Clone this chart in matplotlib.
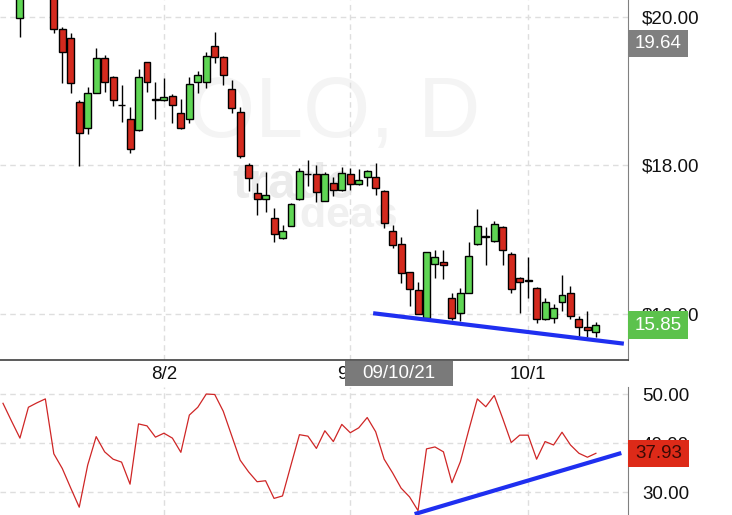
import matplotlib
matplotlib.use("Agg")
import matplotlib.pyplot as plt
import matplotlib.transforms as mtransforms
from matplotlib.patches import Rectangle
import numpy as np

plt.rcParams['font.family'] = ['Liberation Sans', 'DejaVu Sans']

# daily OHLC, 7/6/21 .. 10/13/21 (index = trading day)
opens = [20.60, 20.75, 19.99, 20.35, 20.60, 20.50, 20.50, 19.84, 19.72, 18.86,
         18.50, 18.98, 19.45, 19.19, 18.82, 18.63, 18.48, 19.39, 18.88, 18.88,
         18.94, 18.71, 18.63, 19.12, 19.12, 19.61, 19.46, 19.03, 18.72, 18.01,
         17.63, 17.55, 17.29, 17.02, 17.19, 17.55, 17.89, 17.89, 17.52, 17.76,
         17.67, 17.89, 17.75, 17.85, 17.85, 17.66, 17.12, 16.94, 16.57, 16.32,
         15.95, 16.67, 16.70, 16.22, 16.01, 16.28, 16.94, 17.04, 16.98, 17.17,
         16.81, 16.48, 16.46, 16.35, 15.93, 15.95, 16.16, 16.28, 15.93, 15.82,
         15.76]
highs = [20.90, 20.85, 20.45, 20.70, 20.75, 20.80, 20.55, 19.87, 19.78, 18.88,
         19.06, 19.58, 19.49, 19.20, 19.08, 18.79, 19.30, 19.40, 19.12, 19.18,
         18.96, 18.90, 19.19, 19.27, 19.53, 19.80, 19.47, 19.15, 18.79, 18.03,
         17.76, 17.91, 17.43, 17.20, 17.49, 17.96, 18.07, 18.01, 17.91, 17.85,
         17.98, 17.97, 17.95, 17.94, 18.03, 17.67, 17.20, 17.04, 16.57, 16.43,
         16.84, 16.86, 16.86, 16.28, 16.35, 16.97, 17.41, 17.17, 17.25, 17.18,
         16.83, 16.50, 16.77, 16.36, 16.22, 16.13, 16.53, 16.38, 15.97, 16.04,
         15.89]
lows = [20.50, 20.40, 19.73, 20.30, 20.35, 20.30, 19.78, 19.11, 18.98, 17.99,
        18.42, 18.97, 18.99, 18.80, 18.59, 18.17, 18.47, 18.99, 18.63, 18.87,
        18.57, 18.49, 18.57, 18.98, 19.04, 19.38, 19.08, 18.71, 18.10, 17.66,
        17.33, 17.37, 16.97, 17.01, 17.18, 17.54, 17.72, 17.51, 17.52, 17.59,
        17.66, 17.67, 17.74, 17.72, 17.60, 17.16, 16.89, 16.42, 16.11, 16.00,
        15.94, 16.48, 16.47, 15.92, 15.91, 16.28, 16.93, 16.66, 16.97, 16.66,
        16.28, 16.01, 16.22, 15.88, 15.92, 15.88, 16.04, 15.93, 15.70, 15.69,
        15.69]
closes = [20.80, 20.50, 20.35, 20.60, 20.55, 20.70, 19.84, 19.53, 19.11, 18.44,
          18.98, 19.45, 19.12, 18.88, 18.81, 18.22, 19.19, 19.12, 18.89, 18.92,
          18.81, 18.50, 19.10, 19.22, 19.47, 19.46, 19.22, 18.77, 18.13, 17.83,
          17.55, 17.60, 17.08, 17.12, 17.48, 17.93, 17.88, 17.64, 17.89, 17.67,
          17.90, 17.75, 17.80, 17.93, 17.70, 17.23, 16.93, 16.55, 16.34, 16.00,
          16.83, 16.77, 16.66, 15.95, 16.28, 16.78, 17.19, 17.05, 17.21, 16.86,
          16.34, 16.43, 16.45, 15.93, 16.16, 16.08, 16.26, 15.97, 15.82, 15.78,
          15.85]
rsi = [48.1, 44.5, 41.0, 47.3, 48.2, 49.0, 37.8, 34.8, 30.8, 26.9,
       35.5, 41.3, 38.2, 36.7, 36.1, 31.6, 43.9, 43.5, 41.2, 42.0,
       41.0, 38.1, 45.7, 47.3, 50.0, 49.9, 46.5, 41.5, 36.5, 34.1,
       32.1, 32.3, 28.7, 29.2, 35.5, 41.7, 41.4, 38.9, 42.5, 40.3,
       43.8, 42.1, 43.1, 45.2, 42.3, 36.7, 33.9, 30.8, 29.0, 26.2,
       38.8, 39.2, 38.2, 31.9, 36.2, 42.7, 49.0, 47.4, 49.7, 45.0,
       40.1, 41.6, 41.6, 36.7, 40.3, 39.6, 42.2, 39.6, 37.9, 37.1,
       37.9]

tick_pos = [19, 41, 62]
tick_labels = ['8/2', '9/1', '10/1']
price_ticks = [16, 18, 20]
rsi_ticks = [30, 40, 50]

# hand drawn trend lines
trend_price_x = [43.7, 73.3]
trend_price_y = [16.01, 15.60]
trend_rsi_x = [48.6, 73.0]
trend_rsi_y = [25.5, 37.96]

last_close = 15.85
last_rsi = 37.93
cursor_price = 19.64
cursor_idx = 47
cursor_date = '09/10/21'

W, H = 732, 515
FS = 13.5
GREEN = '#5fd654'
RED = '#d42a1e'
GRID = '#dedede'

fig = plt.figure(figsize=(W / 100, H / 100), dpi=100)
ax = fig.add_axes([0, 155 / H, 628 / W, 360 / H])
ax2 = fig.add_axes([0, 0, 628 / W, 128 / H])

x = np.arange(len(opens))
o = np.array(opens)
c = np.array(closes)
colors = np.where(c >= o, GREEN, RED)

ax.vlines(x, lows, highs, color='black', lw=1, zorder=3)
ax.bar(x, np.maximum(np.abs(c - o), 0.004), bottom=np.minimum(o, c), width=0.82,
       color=colors, edgecolor='black', linewidth=1.0, zorder=4)
ax.plot(trend_price_x, trend_price_y, color='#1f2ff0', lw=3, solid_capstyle='butt', zorder=5)

ax2.plot(x, rsi, color='#cf2626', lw=0.9, zorder=3)
ax2.plot(trend_rsi_x, trend_rsi_y, color='#1f2ff0', lw=3, solid_capstyle='butt', zorder=5)

for a in (ax, ax2):
    a.set_xlim(-0.354, 73.79)
    a.set_axisbelow(True)
    a.grid(True, color=GRID, linestyle=(0, (4, 3)), linewidth=1)
    for s in ('top', 'left'):
        a.spines[s].set_visible(False)
    a.spines['right'].set_color('#808080')
    a.yaxis.tick_right()
    a.tick_params(axis='both', length=0, labelsize=FS, colors='#111111')
    a.tick_params(axis='y', pad=10)

ax.set_ylim(15.380, 20.229)
ax.spines['bottom'].set_color('#404040')
ax.spines['bottom'].set_linewidth(1.2)
ax.set_yticks(price_ticks, labels=[f'${v:.2f}' for v in price_ticks])
ax.set_xticks(tick_pos, labels=tick_labels)
ax.tick_params(axis='x', pad=4)

ax2.set_ylim(25.31, 51.43)
ax2.spines['bottom'].set_visible(False)
ax2.set_yticks(rsi_ticks, labels=[f'{v:.2f}' for v in rsi_ticks])
ax2.set_xticks(tick_pos, labels=[])

# watermark
ax.text(334 / 628, 1 - 137 / 360, 'OLO, D', transform=ax.transAxes, fontsize=62,
        color='#f4f4f4', ha='center', va='baseline', zorder=0)
ax.text(232 / 628, 1 - 198 / 360, 'trade', transform=ax.transAxes, fontsize=36,
        fontweight='bold', color='#ebebeb', ha='left', va='baseline', zorder=0)
ax.text(288 / 628, 1 - 227 / 360, 'ideas', transform=ax.transAxes, fontsize=31,
        fontweight='bold', color='#f0f0f0', ha='left', va='baseline', zorder=0)


def value_box(axis, yval, label, face, txt, width_px=60, height_px=27):
    bb = axis.get_position()
    aw = bb.width * W
    ah = bb.height * H
    y0, y1 = axis.get_ylim()
    dh = height_px / ah * (y1 - y0)
    tr = mtransforms.blended_transform_factory(axis.transAxes, axis.transData)
    axis.add_patch(Rectangle((1.0, yval - dh / 2), width_px / aw, dh, transform=tr,
                             facecolor=face, edgecolor='none', clip_on=False, zorder=6))
    axis.text(1.0 + width_px / aw / 2, yval, label, transform=tr, ha='center', va='center',
              color=txt, fontsize=FS, clip_on=False, zorder=7)


value_box(ax, cursor_price, f'{cursor_price:.2f}', '#7f7f7f', 'white')
value_box(ax, last_close, f'{last_close:.2f}', '#5cc24c', 'white', height_px=28)
value_box(ax2, last_rsi, f'{last_rsi:.2f}', '#dd2a18', '#3a0a05', width_px=61)

# cursor date label under the price panel
trd = mtransforms.blended_transform_factory(ax.transData, ax.transAxes)
bw = 12.75
ax.add_patch(Rectangle((cursor_idx - 0.25 - bw / 2, -26 / 360), bw, 25 / 360, transform=trd,
                       facecolor='#7a7a7a', edgecolor='none', clip_on=False, zorder=6))
ax.text(cursor_idx - 0.25, -13.5 / 360, cursor_date, transform=trd, ha='center', va='center',
        color='white', fontsize=FS, clip_on=False, zorder=7)

fig.savefig('out.png', dpi=100)
